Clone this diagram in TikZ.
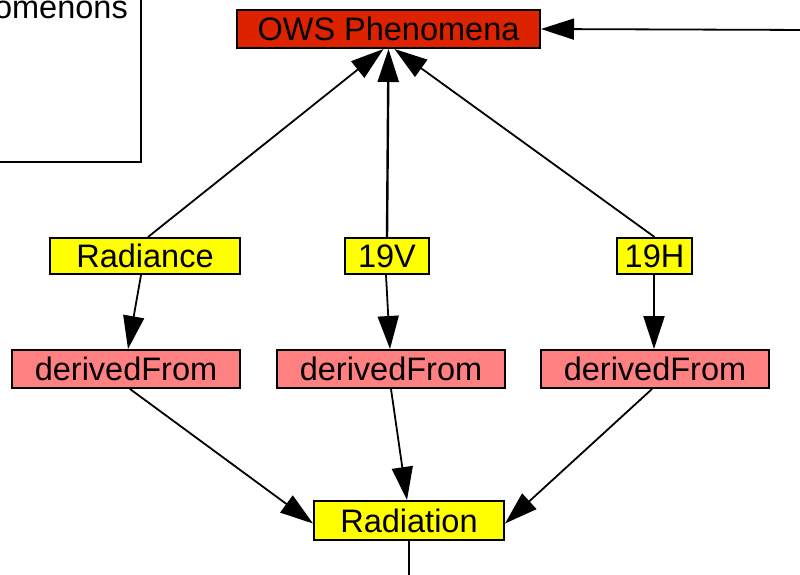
\documentclass[tikz,border=0pt]{standalone}
\usepackage{fontspec}
\setmainfont{Liberation Sans}
\usetikzlibrary{arrows.meta}
\definecolor{owsred}{RGB}{221,34,0}
\definecolor{ylw}{RGB}{255,255,0}
\definecolor{pnk}{RGB}{255,128,128}
\tikzset{
  box/.style={draw=black, line width=2pt, rectangle, inner sep=0pt, font=\fontsize{32.5}{38}\selectfont, text=black},
  ybox/.style={box, fill=ylw, minimum height=36pt},
  pbox/.style={box, fill=pnk, minimum width=228pt, minimum height=38pt},
  conn/.style={line width=1.8pt, -{Triangle[length=33pt,width=21pt]}},
  plain/.style={line width=1.8pt}
}
\begin{document}
\begin{tikzpicture}[x=1pt,y=-1pt]
\useasboundingbox (0,0) rectangle (800,575);
\clip (0,0) rectangle (800,575);
% partial box at top left
\draw[line width=2.3pt] (-30,-30) rectangle (141,162);
\node[anchor=base east, inner sep=0pt, font=\fontsize{32.5}{38}\selectfont] (omen) at (128,19) {omenons};
% nodes
\node[box, fill=owsred, minimum width=303pt, minimum height=38pt] (ows) at (388.5,29) {OWS Phenomena};
\node[ybox, minimum width=190pt] (rad) at (145,256) {Radiance};
\node[ybox, minimum width=84pt] (v19) at (387,256) {19V};
\node[ybox, minimum width=75pt] (h19) at (654.5,256) {19H};
\node[pbox] (df1) at (126,369) {derivedFrom};
\node[pbox] (df2) at (391,369) {derivedFrom};
\node[pbox] (df3) at (655,369) {derivedFrom};
\node[ybox, minimum width=190pt, minimum height=39pt] (radn) at (409,520.5) {Radiation};
\coordinate (rin) at (810,30);
\coordinate (rout) at (409,590);
% connectors
\draw[conn] (rin) -- (ows.east);
\draw[conn] ([xshift=3pt]rad.north) -- ([xshift=-5pt]ows.south);
\draw[conn, line width=2.4pt] (v19.north) -- (ows.south);
\draw[conn] (h19.north) -- ([xshift=6pt]ows.south);
\draw[conn] ([xshift=-4pt]rad.south) -- ([xshift=2pt]df1.north);
\draw[conn] ([xshift=-1pt]v19.south) -- ([xshift=-1pt]df2.north);
\draw[conn, line width=2.2pt] ([xshift=-0.5pt]h19.south) -- ([xshift=-1pt]df3.north);
\draw[conn] ([xshift=4pt]df1.south) -- ([yshift=-3pt]radn.west);
\draw[conn] (df2.south) -- ([xshift=-2pt]radn.north);
\draw[conn] ([xshift=-3pt]df3.south) -- ([yshift=-3pt]radn.east);
\draw[plain] (radn.south) -- (rout);
\end{tikzpicture}
\end{document}
